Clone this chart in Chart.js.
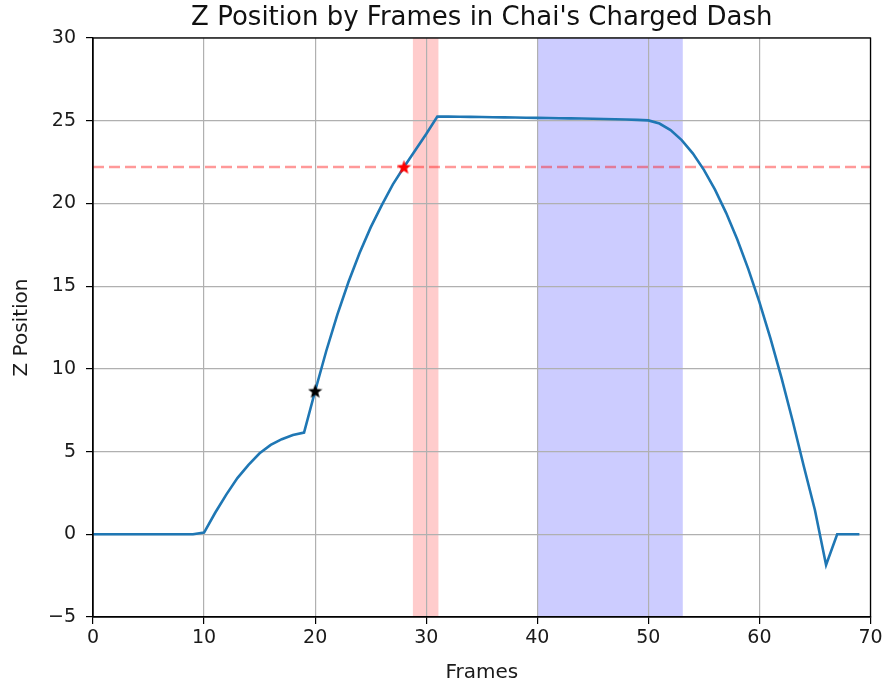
<!DOCTYPE html>
<html>
<head>
<meta charset="utf-8">
<script src="https://cdn.jsdelivr.net/npm/chart.js@4/dist/chart.umd.min.js"></script>
<style>
  html, body { margin: 0; padding: 0; background: #fff; }
  #wrap { width: 883px; height: 686px; }
</style>
</head>
<body>
<div id="wrap"><canvas id="zChart" width="883" height="686"></canvas></div>
<script>
// frame numbers and Z position per frame
var frames = [
   0, 1, 2, 3, 4, 5, 6, 7, 8, 9,
   10, 11, 12, 13, 14, 15, 16, 17, 18, 19,
   20, 21, 22, 23, 24, 25, 26, 27, 28, 29,
   30, 31, 32, 33, 34, 35, 36, 37, 38, 39,
   40, 41, 42, 43, 44, 45, 46, 47, 48, 49,
   50, 51, 52, 53, 54, 55, 56, 57, 58, 59,
   60, 61, 62, 63, 64, 65, 66, 67, 68, 69
];
var zPos = [
   0, 0, 0, 0, 0, 0, 0, 0, 0, 0,
   0.1, 1.3, 2.4, 3.4, 4.2, 4.9, 5.4, 5.75, 6.0, 6.15,
   8.66, 11.08, 13.28, 15.25, 17.0, 18.55, 19.9, 21.15, 22.2, 23.2,
   24.2, 25.25, 25.25, 25.24, 25.23, 25.22, 25.21, 25.2, 25.19, 25.18,
   25.17, 25.16, 25.15, 25.14, 25.13, 25.12, 25.1, 25.09, 25.07, 25.05,
   25.02, 24.83, 24.43, 23.83, 23.03, 22.03, 20.83, 19.43, 17.83, 16.03,
   14.03, 11.83, 9.43, 6.83, 4.1, 1.45, -1.86, 0, 0, 0
];

// marked points
var blackStar = [20, 8.66];
var redStar = [28, 22.2];
var thresholdZ = 22.2;

// shaded frame ranges
var redSpan = [28.8, 31.1];
var blueSpan = [40, 53.1];

var xTicks = [0, 10, 20, 30, 40, 50, 60, 70];
var yTicks = [-5, 0, 5, 10, 15, 20, 25, 30];

var titleText = "Z Position by Frames in Chai's Charged Dash";

var points = [];
for (let i = 0; i < frames.length; i++) {
   points.push({ x: frames[i], y: zPos[i] });
}

// filled five point star used as point style
function makeStar(color, size) {
   var c = document.createElement("canvas");
   c.width = size;
   c.height = size;
   var g = c.getContext("2d");
   var r = size / 2, ri = r * 0.42;
   g.beginPath();
   for (let k = 0; k < 10; k++) {
      var rad = k % 2 === 0 ? r : ri;
      var ang = -Math.PI / 2 + (k * Math.PI) / 5;
      var px = r + rad * Math.cos(ang);
      var py = r + 0.6 + rad * Math.sin(ang);
      if (k === 0) g.moveTo(px, py);
      else g.lineTo(px, py);
   }
   g.closePath();
   g.fillStyle = color;
   g.fill();
   return c;
}

var spansPlugin = {
   id: "spans",
   beforeDraw: function (chart) {
      var ctx = chart.ctx, area = chart.chartArea, xs = chart.scales.x;
      ctx.save();
      ctx.fillStyle = "rgba(255, 0, 0, 0.2)";
      var a = xs.getPixelForValue(redSpan[0]), b = xs.getPixelForValue(redSpan[1]);
      ctx.fillRect(a, area.top, b - a, area.bottom - area.top);
      ctx.fillStyle = "rgba(0, 0, 255, 0.2)";
      a = xs.getPixelForValue(blueSpan[0]);
      b = xs.getPixelForValue(blueSpan[1]);
      ctx.fillRect(a, area.top, b - a, area.bottom - area.top);
      ctx.restore();
   },
   afterDraw: function (chart) {
      var ctx = chart.ctx, area = chart.chartArea;
      ctx.save();
      // box around the plot
      ctx.strokeStyle = "#000";
      ctx.lineWidth = 1.3;
      ctx.strokeRect(area.left, area.top, area.right - area.left, area.bottom - area.top);
      // title centred over the axes
      ctx.fillStyle = "#111";
      ctx.font = "26px 'DejaVu Sans', sans-serif";
      ctx.textAlign = "center";
      ctx.textBaseline = "alphabetic";
      ctx.fillText(titleText, (area.left + area.right) / 2, 25);
      ctx.restore();
   },
};

var tickFont = { family: "'DejaVu Sans', sans-serif", size: 19 };
var labelFont = { family: "'DejaVu Sans', sans-serif", size: 20 };

var ctx = document.getElementById("zChart").getContext("2d");
var chart = new Chart(ctx, {
   type: "line",
   data: {
      datasets: [
         {
            label: "threshold",
            data: [{ x: 0, y: thresholdZ }, { x: 70, y: thresholdZ }],
            borderColor: "rgba(255, 0, 0, 0.4)",
            borderWidth: 2.4,
            borderDash: [11, 5],
            pointRadius: 0,
            order: 3,
         },
         {
            label: "Z Position",
            data: points,
            borderColor: "#1f77b4",
            borderWidth: 2.6,
            pointRadius: 0,
            tension: 0,
            order: 2,
         },
         {
            label: "start",
            data: [{ x: blackStar[0], y: blackStar[1] }],
            pointStyle: makeStar("#000", 15),
            showLine: false,
            order: 1,
         },
         {
            label: "cross",
            data: [{ x: redStar[0], y: redStar[1] }],
            pointStyle: makeStar("#ff0000", 15),
            showLine: false,
            order: 1,
         },
      ],
   },
   options: {
      responsive: false,
      animation: false,
      layout: { padding: { left: 0, right: 0, top: 38, bottom: 0 } },
      plugins: {
         legend: { display: false },
         tooltip: { enabled: false },
         title: { display: false },
      },
      scales: {
         x: {
            type: "linear",
            min: 0,
            max: 70,
            afterBuildTicks: function (axis) {
               axis.ticks = xTicks.map((v) => ({ value: v }));
            },
            afterFit: function (axis) {
               axis.height = 69;
               axis.paddingLeft = 0;
               axis.paddingRight = 12.5;
            },
            grid: { color: "#b0b0b0", lineWidth: 1.2, tickColor: "#000", tickLength: 7 },
            border: { color: "#000", width: 1.3 },
            ticks: { color: "#1a1a1a", font: tickFont, padding: 3, maxRotation: 0 },
            title: { display: true, text: "Frames", color: "#1a1a1a", font: labelFont, padding: { top: 4, bottom: 1 } },
         },
         y: {
            type: "linear",
            min: -5,
            max: 30,
            afterBuildTicks: function (axis) {
               axis.ticks = yTicks.map((v) => ({ value: v }));
            },
            afterFit: function (axis) {
               axis.width = 93;
               axis.paddingTop = 0;
               axis.paddingBottom = 0;
            },
            grid: { color: "#b0b0b0", lineWidth: 1.2, tickColor: "#000", tickLength: 7 },
            border: { color: "#000", width: 1.3 },
            ticks: {
               color: "#1a1a1a",
               font: tickFont,
               padding: 10,
               callback: function (v) {
                  return String(v).replace("-", "\u2212");
               },
            },
            title: { display: true, text: "Z Position", color: "#1a1a1a", font: labelFont, padding: { top: 10, bottom: 4 } },
         },
      },
   },
   plugins: [spansPlugin],
});
</script>
</body>
</html>
